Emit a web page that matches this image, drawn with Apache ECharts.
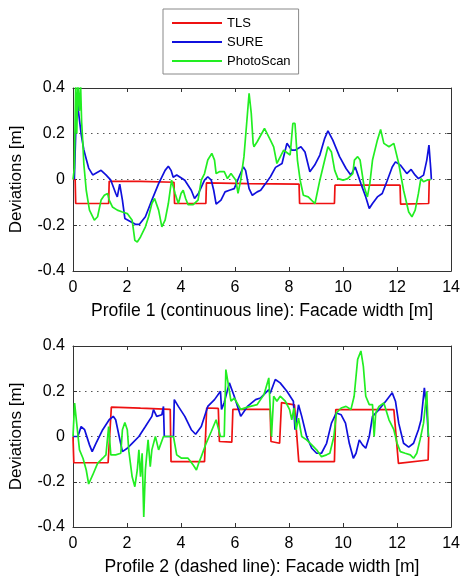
<!DOCTYPE html>
<html>
<head>
<meta charset="utf-8">
<script src="https://cdn.jsdelivr.net/npm/echarts@6/dist/echarts.min.js"></script>
<style>html,body{margin:0;padding:0;background:#fff;}#c{width:463px;height:583px;}</style>
</head>
<body>
<div id="c"></div>
<script>
// ---- data ----
const seriesNames = ['TLS', 'SURE', 'PhotoScan'];
const xTicks = [0, 2, 4, 6, 8, 10, 12, 14];
const yTicks = [-0.4, -0.2, 0, 0.2, 0.4];
const xTitle1 = 'Profile 1 (continuous line): Facade width [m]';
const xTitle2 = 'Profile 2 (dashed line): Facade width [m]';
const yTitle = 'Deviations [m]';

const p1TLS = [[0,0],[0.08,0],[0.1,-0.105],[1.32,-0.105],[1.34,-0.008],[2.5,-0.008],[3.74,-0.012],[3.76,-0.105],[4.92,-0.105],[4.94,-0.015],[6.5,-0.018],[8.37,-0.02],[8.39,-0.105],[9.68,-0.105],[9.7,-0.025],[12.11,-0.025],[12.13,-0.108],[13.17,-0.105],[13.19,0]];
const p1SURE = [[0.05,0],[0.1,0.2],[0.15,0.38],[0.2,0.3],[0.25,0.25],[0.3,0.2],[0.4,0.13],[0.49,0.09],[0.58,0.05],[0.73,0.02],[1.04,0.04],[1.22,0.02],[1.4,-0.003],[1.58,-0.06],[1.64,-0.076],[1.73,-0.02],[1.83,-0.09],[1.92,-0.17],[2.07,-0.18],[2.31,-0.196],[2.46,-0.196],[2.68,-0.163],[2.92,-0.09],[3.17,-0.018],[3.41,0.04],[3.53,0.058],[3.63,0.04],[3.71,0.01],[3.84,0.02],[4.14,-0.003],[4.38,-0.047],[4.5,-0.083],[4.65,-0.06],[4.87,-0.003],[4.99,0.012],[5.12,-0.003],[5.21,-0.047],[5.3,-0.108],[5.48,-0.09],[5.63,-0.054],[5.79,-0.047],[5.97,-0.04],[6.15,0.012],[6.31,0.055],[6.39,0.04],[6.52,-0.04],[6.64,-0.069],[6.82,-0.054],[6.95,-0.047],[7.13,-0.018],[7.31,0.012],[7.5,0.053],[7.74,0.07],[7.92,0.158],[8.1,0.128],[8.22,0.128],[8.44,0.143],[8.59,0.12],[8.77,0.034],[8.95,0.063],[9.14,0.107],[9.32,0.18],[9.44,0.213],[9.62,0.172],[9.87,0.1],[10.11,0.048],[10.29,0.019],[10.45,0.055],[10.66,-0.018],[10.84,-0.076],[10.97,-0.127],[11.09,-0.105],[11.27,-0.076],[11.45,-0.061],[11.64,-0.003],[11.82,0.055],[11.94,0.077],[12.12,0.063],[12.36,0.026],[12.52,0.044],[12.67,0.019],[12.79,0.004],[12.98,0.019],[13.1,0.085],[13.18,0.15],[13.25,0.04],[13.27,0]];
const p1PhotoScan = [[0,0],[0.05,0.05],[0.1,0.42],[0.14,0.2],[0.18,0.42],[0.24,0.3],[0.28,0.42],[0.32,0.25],[0.36,0.17],[0.4,0.07],[0.49,-0.047],[0.61,-0.134],[0.79,-0.178],[0.91,-0.163],[1.04,-0.09],[1.16,-0.069],[1.28,-0.061],[1.34,-0.09],[1.46,-0.12],[1.64,-0.134],[1.83,-0.142],[2.01,-0.149],[2.19,-0.178],[2.29,-0.266],[2.38,-0.273],[2.5,-0.251],[2.68,-0.207],[2.8,-0.163],[2.92,-0.105],[3.02,-0.083],[3.17,-0.134],[3.29,-0.207],[3.41,-0.178],[3.53,-0.105],[3.65,-0.003],[3.78,-0.061],[3.9,-0.105],[4.0,-0.061],[4.08,-0.047],[4.17,-0.083],[4.26,-0.11],[4.45,-0.11],[4.63,-0.09],[4.75,-0.003],[4.87,0.026],[4.99,0.085],[5.14,0.114],[5.24,0.085],[5.3,0.026],[5.42,0.034],[5.6,0.034],[5.72,0.004],[5.85,0.026],[6.03,-0.003],[6.11,-0.061],[6.21,-0.003],[6.33,0.1],[6.43,0.245],[6.52,0.377],[6.6,0.29],[6.67,0.158],[6.7,0.143],[6.82,0.165],[7.09,0.223],[7.31,0.172],[7.43,0.143],[7.55,0.07],[7.8,0.128],[8.04,0.107],[8.14,0.245],[8.22,0.245],[8.31,0.085],[8.41,-0.003],[8.53,-0.069],[8.71,-0.076],[8.83,-0.09],[8.96,-0.105],[9.14,-0.003],[9.32,0.085],[9.44,0.143],[9.57,0.12],[9.69,0.04],[9.81,0.004],[10.0,-0.003],[10.17,0.004],[10.36,0.026],[10.42,0.085],[10.54,0.1],[10.63,0.085],[10.78,-0.032],[10.9,-0.076],[10.99,-0.018],[11.09,0.085],[11.27,0.172],[11.39,0.219],[11.51,0.158],[11.7,0.143],[11.88,0.158],[12.06,0.07],[12.24,-0.047],[12.43,-0.142],[12.55,-0.163],[12.67,-0.134],[12.79,-0.061],[12.88,0.004],[12.98,-0.01],[13.1,-0.003],[13.25,0]];

const p2TLS = [[0,0],[0.03,-0.116],[1.3,-0.116],[1.42,0.13],[2.5,0.125],[3.6,0.12],[3.63,-0.111],[4.87,-0.111],[4.95,0.126],[5.38,0.124],[5.42,-0.022],[5.88,-0.025],[5.92,0.12],[7.3,0.12],[7.33,-0.022],[7.65,-0.03],[7.72,0.15],[8.2,0.14],[8.36,-0.111],[9.68,-0.111],[9.73,0.119],[11.88,0.119],[12.05,-0.119],[13.15,-0.104],[13.17,0]];
const p2SURE = [[0,0],[0.18,0],[0.3,0.044],[0.43,0.03],[0.61,-0.037],[0.71,-0.067],[0.85,-0.03],[1.1,0.03],[1.34,0.074],[1.49,0.089],[1.58,0.074],[1.71,0],[1.83,-0.067],[2.01,-0.052],[2.19,-0.03],[2.44,0],[2.68,0.044],[2.92,0.089],[2.98,0.119],[3.1,0.089],[3.29,0.096],[3.35,0.133],[3.38,0],[3.72,0],[3.75,0.163],[3.9,0.133],[4.14,0.089],[4.38,0.03],[4.54,0.01],[4.75,0.044],[4.99,0.133],[5.24,0.163],[5.46,0.2],[5.5,0.12],[5.6,0.15],[5.79,0.237],[5.97,0.178],[6.21,0.089],[6.46,0.133],[6.76,0.163],[6.94,0.17],[7.25,0.207],[7.3,0.19],[7.49,0.252],[7.67,0.237],[7.92,0.2],[8.16,0.156],[8.22,0.03],[8.35,0.14],[8.47,0.089],[8.65,0],[8.84,-0.052],[9.02,-0.074],[9.2,-0.074],[9.39,-0.03],[9.57,0.059],[9.75,0.104],[9.93,0.096],[10.09,0.059],[10.23,-0.03],[10.38,-0.096],[10.48,-0.074],[10.6,-0.015],[10.72,-0.037],[10.84,-0.052],[10.97,0],[11.09,0.089],[11.33,0.119],[11.58,0.156],[11.82,0.193],[11.94,0.156],[12.06,0.059],[12.24,-0.03],[12.43,-0.047],[12.61,-0.03],[12.79,0.03],[12.89,0.074],[13.01,0.215],[13.1,0.119],[13.16,0]];
const p2PhotoScan = [[0,0],[0.06,0.148],[0.11,0.089],[0.24,-0.059],[0.37,-0.096],[0.49,-0.148],[0.58,-0.21],[0.73,-0.17],[0.91,-0.119],[1.1,-0.096],[1.22,-0.081],[1.32,0.044],[1.4,-0.081],[1.58,-0.081],[1.77,-0.074],[1.83,0.03],[1.92,0.062],[2.01,0.03],[2.07,-0.067],[2.19,-0.178],[2.29,-0.222],[2.38,-0.148],[2.44,-0.059],[2.5,-0.178],[2.56,-0.074],[2.62,-0.356],[2.68,-0.148],[2.78,-0.015],[2.86,-0.133],[2.92,-0.059],[3.05,0],[3.17,-0.059],[3.35,0],[3.72,0],[3.84,-0.081],[4.02,-0.096],[4.26,-0.096],[4.45,-0.126],[4.57,-0.148],[4.65,-0.119],[4.75,-0.089],[4.93,-0.03],[5.12,0.022],[5.3,0.074],[5.46,0],[5.6,0],[5.66,0.296],[5.72,0.252],[5.85,0.156],[5.97,0.17],[6.21,0.12],[6.46,0.13],[6.82,0.141],[7.07,0.185],[7.25,0.259],[7.31,0.267],[7.35,0],[7.43,0.178],[7.55,0.156],[7.67,0.178],[7.86,0.156],[8.02,0.119],[8.1,0.074],[8.18,0.126],[8.26,0.03],[8.35,0.081],[8.47,0],[8.65,-0.015],[8.84,-0.037],[9.02,-0.059],[9.2,-0.089],[9.39,-0.081],[9.51,-0.074],[9.66,0],[9.75,0.104],[9.93,0.126],[10.11,0.133],[10.29,0.119],[10.41,0.178],[10.54,0.341],[10.66,0.378],[10.75,0.311],[10.84,0.178],[10.97,0.141],[11.09,0.141],[11.15,0],[11.21,0.104],[11.33,0.133],[11.51,0.148],[11.7,0.074],[11.88,0.03],[12.0,-0.03],[12.12,-0.067],[12.3,-0.074],[12.49,-0.081],[12.61,-0.096],[12.73,-0.074],[12.85,-0.015],[12.98,0.059],[13.1,0.2],[13.16,0]];

const colors = ['#ee1111', '#1010dd', '#22ee22'];

// ---- chart ----
const chart = echarts.init(document.getElementById('c'), null, {renderer: 'canvas'});
const FONT = 'Liberation Sans, Arial, sans-serif';
const boxColor = '#333';
const fmtY = v => { const r = Math.round(v * 10) / 10; return r === 0 ? '0' : String(r); };

function xAxes(gi, title) {
  return [
    {gridIndex: gi, type: 'value', min: xTicks[0], max: xTicks[xTicks.length - 1], interval: 2,
     position: 'bottom',
     axisLine: {show: true, onZero: false, lineStyle: {color: boxColor, width: 1}},
     axisTick: {show: true, inside: true, length: 4, lineStyle: {color: boxColor}},
     axisLabel: {fontFamily: FONT, fontSize: 16, color: '#000', margin: 9},
     splitLine: {show: false},
     name: title, nameLocation: 'middle', nameGap: 31,
     nameTextStyle: {fontFamily: FONT, fontSize: 17.6, color: '#000'}},
    {gridIndex: gi, type: 'value', min: xTicks[0], max: xTicks[xTicks.length - 1], interval: 2,
     position: 'top',
     axisLine: {show: true, onZero: false, lineStyle: {color: boxColor, width: 1}},
     axisTick: {show: true, inside: true, length: 4, lineStyle: {color: boxColor}},
     axisLabel: {show: false}, splitLine: {show: false}}
  ];
}
function yAxes(gi) {
  return [
    {gridIndex: gi, type: 'value', min: yTicks[0], max: yTicks[yTicks.length - 1], interval: 0.2,
     position: 'left',
     axisLine: {show: true, onZero: false, lineStyle: {color: boxColor, width: 1}},
     axisTick: {show: true, inside: true, length: 4, lineStyle: {color: boxColor}},
     axisLabel: {fontFamily: FONT, fontSize: 16, color: '#000', margin: 8, formatter: fmtY},
     splitLine: {show: true, lineStyle: {color: '#555', type: [1.5, 4.5], width: 1}},
     name: yTitle, nameLocation: 'middle', nameGap: 48, nameRotate: 90,
     nameTextStyle: {fontFamily: FONT, fontSize: 17, color: '#000'}},
    {gridIndex: gi, type: 'value', min: yTicks[0], max: yTicks[yTicks.length - 1], interval: 0.2,
     position: 'right',
     axisLine: {show: true, onZero: false, lineStyle: {color: boxColor, width: 1}},
     axisTick: {show: true, inside: true, length: 4, lineStyle: {color: boxColor}},
     axisLabel: {show: false}, splitLine: {show: false}}
  ];
}
function lineSeries(name, data, xi, yi, color) {
  return {name: name, type: 'line', data: data, xAxisIndex: xi, yAxisIndex: yi,
          symbol: 'none', smooth: false, clip: true, animation: false,
          lineStyle: {color: color, width: 1.7}, itemStyle: {color: color}};
}

const option = {
  backgroundColor: '#fff',
  animation: false,
  legend: {
    orient: 'vertical', left: 163, top: 9,
    padding: [7, 8, 6, 9], itemGap: 5, itemWidth: 50, itemHeight: 2,
    icon: 'rect',
    backgroundColor: '#fff', borderColor: '#888', borderWidth: 1,
    textStyle: {fontFamily: FONT, fontSize: 13, color: '#000', lineHeight: 14},
    data: seriesNames
  },
  grid: [
    {left: 70, top: 88, width: 383, height: 183},
    {left: 70, top: 346, width: 383, height: 181}
  ],
  xAxis: [...xAxes(0, xTitle1), ...xAxes(1, xTitle2)],
  yAxis: [...yAxes(0), ...yAxes(1)],
  series: [
    lineSeries(seriesNames[0], p1TLS, 0, 0, colors[0]),
    lineSeries(seriesNames[1], p1SURE, 0, 0, colors[1]),
    lineSeries(seriesNames[2], p1PhotoScan, 0, 0, colors[2]),
    lineSeries(seriesNames[0], p2TLS, 2, 2, colors[0]),
    lineSeries(seriesNames[1], p2SURE, 2, 2, colors[1]),
    lineSeries(seriesNames[2], p2PhotoScan, 2, 2, colors[2])
  ]
};
chart.setOption(option);
</script>
</body>
</html>
